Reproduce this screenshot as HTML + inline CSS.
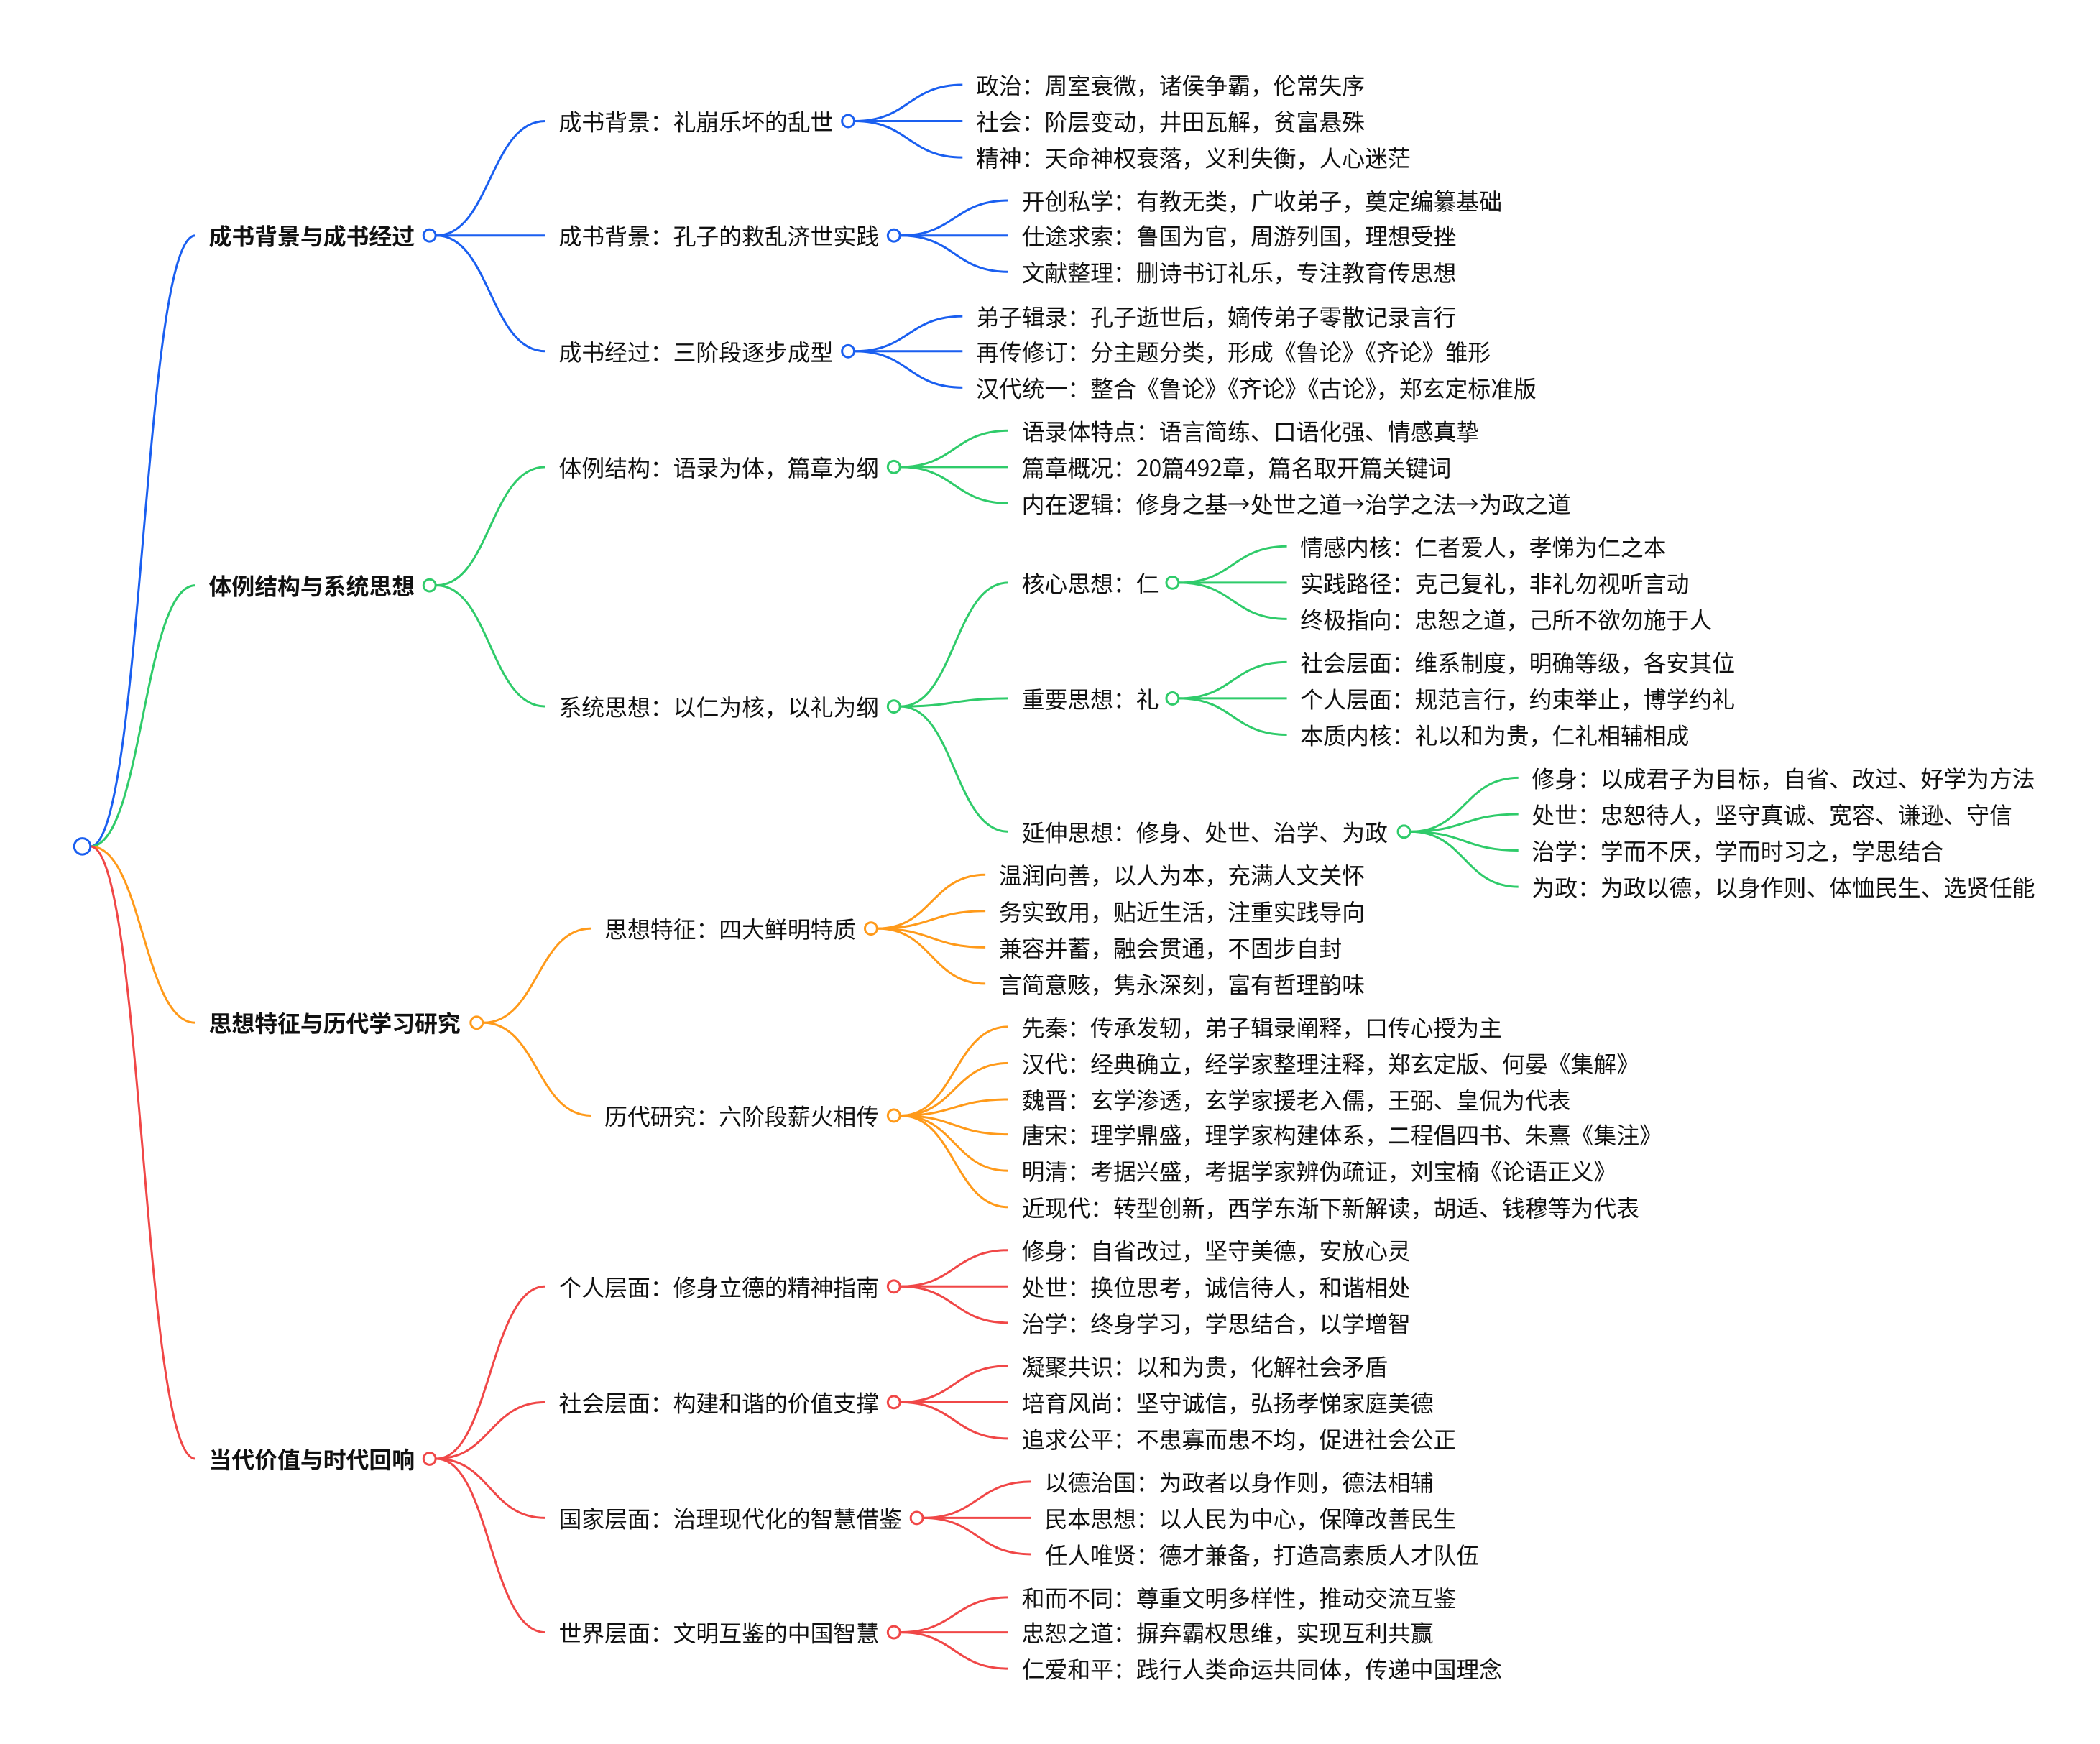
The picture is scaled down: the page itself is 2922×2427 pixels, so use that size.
<!DOCTYPE html>
<html><head><meta charset="utf-8"><style>
html,body{margin:0;padding:0;background:#fff;}
svg{display:block;}
text{font-family:"Noto Sans CJK SC","Liberation Sans",sans-serif;font-size:17px;fill:#111;dominant-baseline:central;}
.b{font-weight:bold;}
path{fill:none;stroke-width:1.6;}
circle{fill:#fff;stroke-width:1.6;}
.bl path,.bl circle{stroke:#1a5ff0;}
.gr path,.gr circle{stroke:#2fcb6a;}
.or path,.or circle{stroke:#ff9a1a;}
.rd path,.rd circle{stroke:#f04747;}
</style></head><body>
<svg width="2922" height="2427" viewBox="0 0 1560 1296" xmlns="http://www.w3.org/2000/svg">
<g class="bl">
<path d="M67 629 C106 629 106 175 145 175"/>
<path d="M324 175 C364 175 364 90 405 90"/><path d="M324 175 L405 175"/><path d="M324 175 C364 175 364 261 405 261"/>
<path d="M635 90 C675 90 675 63 715 63"/><path d="M635 90 L715 90"/><path d="M635 90 C675 90 675 117 715 117"/>
<path d="M669 175 C709 175 709 149 749 149"/><path d="M669 175 L749 175"/><path d="M669 175 C709 175 709 202 749 202"/>
<path d="M635 261 C675 261 675 235 715 235"/><path d="M635 261 L715 261"/><path d="M635 261 C675 261 675 288 715 288"/>
<circle cx="319" cy="175" r="4.5"/><circle cx="630" cy="90" r="4.5"/><circle cx="664" cy="175" r="4.5"/><circle cx="630" cy="261" r="4.5"/>
</g>
<g class="gr">
<path d="M67 629 C106 629 106 435 145 435"/>
<path d="M324 435 C364 435 364 347 405 347"/><path d="M324 435 C364 435 364 525 405 525"/>
<path d="M669 347 C709 347 709 320 749 320"/><path d="M669 347 L749 347"/><path d="M669 347 C709 347 709 374 749 374"/>
<path d="M669 525 C709 525 709 433 749 433"/><path d="M669 525 C709 525 709 519 749 519"/><path d="M669 525 C709 525 709 618 749 618"/>
<path d="M876 433 C916 433 916 406 956 406"/><path d="M876 433 L956 433"/><path d="M876 433 C916 433 916 460 956 460"/>
<path d="M876 519 C916 519 916 492 956 492"/><path d="M876 519 L956 519"/><path d="M876 519 C916 519 916 546 956 546"/>
<path d="M1048 618 C1088 618 1088 578 1128 578"/><path d="M1048 618 C1088 618 1088 605 1128 605"/><path d="M1048 618 C1088 618 1088 632 1128 632"/><path d="M1048 618 C1088 618 1088 659 1128 659"/>
<circle cx="319" cy="435" r="4.5"/><circle cx="664" cy="347" r="4.5"/><circle cx="664" cy="525" r="4.5"/><circle cx="871" cy="433" r="4.5"/><circle cx="871" cy="519" r="4.5"/><circle cx="1043" cy="618" r="4.5"/>
</g>
<g class="or">
<path d="M67 629 C106 629 106 760 145 760"/>
<path d="M359 760 C399 760 399 690 439 690"/><path d="M359 760 C399 760 399 829 439 829"/>
<path d="M652 690 C692 690 692 650 732 650"/><path d="M652 690 C692 690 692 677 732 677"/><path d="M652 690 C692 690 692 704 732 704"/><path d="M652 690 C692 690 692 731 732 731"/>
<path d="M669 829 C709 829 709 763 749 763"/><path d="M669 829 C709 829 709 790 749 790"/><path d="M669 829 C709 829 709 817 749 817"/><path d="M669 829 C709 829 709 843 749 843"/><path d="M669 829 C709 829 709 870 749 870"/><path d="M669 829 C709 829 709 897 749 897"/>
<circle cx="354" cy="760" r="4.5"/><circle cx="647" cy="690" r="4.5"/><circle cx="664" cy="829" r="4.5"/>
</g>
<g class="rd">
<path d="M67 629 C106 629 106 1084 145 1084"/>
<path d="M324 1084 C364 1084 364 956 405 956"/><path d="M324 1084 C364 1084 364 1042 405 1042"/><path d="M324 1084 C364 1084 364 1128 405 1128"/><path d="M324 1084 C364 1084 364 1213 405 1213"/>
<path d="M669 956 C709 956 709 929 749 929"/><path d="M669 956 L749 956"/><path d="M669 956 C709 956 709 983 749 983"/>
<path d="M669 1042 C709 1042 709 1015 749 1015"/><path d="M669 1042 L749 1042"/><path d="M669 1042 C709 1042 709 1069 749 1069"/>
<path d="M686 1128 C726 1128 726 1101 766 1101"/><path d="M686 1128 L766 1128"/><path d="M686 1128 C726 1128 726 1155 766 1155"/>
<path d="M669 1213 C709 1213 709 1187 749 1187"/><path d="M669 1213 L749 1213"/><path d="M669 1213 C709 1213 709 1240 749 1240"/>
<circle cx="319" cy="1084" r="4.5"/><circle cx="664" cy="956" r="4.5"/><circle cx="664" cy="1042" r="4.5"/><circle cx="681" cy="1128" r="4.5"/><circle cx="664" cy="1213" r="4.5"/>
</g>
<circle cx="61" cy="629" r="6" fill="#fff" stroke="#1a5ff0" stroke-width="2"/>

<text class="b" x="155" y="175">成书背景与成书经过</text>
<text class="b" x="155" y="435">体例结构与系统思想</text>
<text class="b" x="155" y="760">思想特征与历代学习研究</text>
<text class="b" x="155" y="1084">当代价值与时代回响</text>

<text x="415" y="90">成书背景：礼崩乐坏的乱世</text>
<text x="725" y="63">政治：周室衰微，诸侯争霸，伦常失序</text>
<text x="725" y="90">社会：阶层变动，井田瓦解，贫富悬殊</text>
<text x="725" y="117">精神：天命神权衰落，义利失衡，人心迷茫</text>
<text x="415" y="175">成书背景：孔子的救乱济世实践</text>
<text x="759" y="149">开创私学：有教无类，广收弟子，奠定编纂基础</text>
<text x="759" y="175">仕途求索：鲁国为官，周游列国，理想受挫</text>
<text x="759" y="202">文献整理：删诗书订礼乐，专注教育传思想</text>
<text x="415" y="261">成书经过：三阶段逐步成型</text>
<text x="725" y="235">弟子辑录：孔子逝世后，嫡传弟子零散记录言行</text>
<text x="725" y="261">再传修订：分主题分类，形成《鲁论》《齐论》雏形</text>
<text x="725" y="288">汉代统一：整合《鲁论》《齐论》《古论》，郑玄定标准版</text>

<text x="415" y="347">体例结构：语录为体，篇章为纲</text>
<text x="759" y="320">语录体特点：语言简练、口语化强、情感真挚</text>
<text x="759" y="347">篇章概况：20篇492章，篇名取开篇关键词</text>
<text x="759" y="374">内在逻辑：修身之基→处世之道→治学之法→为政之道</text>
<text x="415" y="525">系统思想：以仁为核，以礼为纲</text>
<text x="759" y="433">核心思想：仁</text>
<text x="966" y="406">情感内核：仁者爱人，孝悌为仁之本</text>
<text x="966" y="433">实践路径：克己复礼，非礼勿视听言动</text>
<text x="966" y="460">终极指向：忠恕之道，己所不欲勿施于人</text>
<text x="759" y="519">重要思想：礼</text>
<text x="966" y="492">社会层面：维系制度，明确等级，各安其位</text>
<text x="966" y="519">个人层面：规范言行，约束举止，博学约礼</text>
<text x="966" y="546">本质内核：礼以和为贵，仁礼相辅相成</text>
<text x="759" y="618">延伸思想：修身、处世、治学、为政</text>
<text x="1138" y="578">修身：以成君子为目标，自省、改过、好学为方法</text>
<text x="1138" y="605">处世：忠恕待人，坚守真诚、宽容、谦逊、守信</text>
<text x="1138" y="632">治学：学而不厌，学而时习之，学思结合</text>
<text x="1138" y="659">为政：为政以德，以身作则、体恤民生、选贤任能</text>

<text x="449" y="690">思想特征：四大鲜明特质</text>
<text x="742" y="650">温润向善，以人为本，充满人文关怀</text>
<text x="742" y="677">务实致用，贴近生活，注重实践导向</text>
<text x="742" y="704">兼容并蓄，融会贯通，不固步自封</text>
<text x="742" y="731">言简意赅，隽永深刻，富有哲理韵味</text>
<text x="449" y="829">历代研究：六阶段薪火相传</text>
<text x="759" y="763">先秦：传承发轫，弟子辑录阐释，口传心授为主</text>
<text x="759" y="790">汉代：经典确立，经学家整理注释，郑玄定版、何晏《集解》</text>
<text x="759" y="817">魏晋：玄学渗透，玄学家援老入儒，王弼、皇侃为代表</text>
<text x="759" y="843">唐宋：理学鼎盛，理学家构建体系，二程倡四书、朱熹《集注》</text>
<text x="759" y="870">明清：考据兴盛，考据学家辨伪疏证，刘宝楠《论语正义》</text>
<text x="759" y="897">近现代：转型创新，西学东渐下新解读，胡适、钱穆等为代表</text>

<text x="415" y="956">个人层面：修身立德的精神指南</text>
<text x="759" y="929">修身：自省改过，坚守美德，安放心灵</text>
<text x="759" y="956">处世：换位思考，诚信待人，和谐相处</text>
<text x="759" y="983">治学：终身学习，学思结合，以学增智</text>
<text x="415" y="1042">社会层面：构建和谐的价值支撑</text>
<text x="759" y="1015">凝聚共识：以和为贵，化解社会矛盾</text>
<text x="759" y="1042">培育风尚：坚守诚信，弘扬孝悌家庭美德</text>
<text x="759" y="1069">追求公平：不患寡而患不均，促进社会公正</text>
<text x="415" y="1128">国家层面：治理现代化的智慧借鉴</text>
<text x="776" y="1101">以德治国：为政者以身作则，德法相辅</text>
<text x="776" y="1128">民本思想：以人民为中心，保障改善民生</text>
<text x="776" y="1155">任人唯贤：德才兼备，打造高素质人才队伍</text>
<text x="415" y="1213">世界层面：文明互鉴的中国智慧</text>
<text x="759" y="1187">和而不同：尊重文明多样性，推动交流互鉴</text>
<text x="759" y="1213">忠恕之道：摒弃霸权思维，实现互利共赢</text>
<text x="759" y="1240">仁爱和平：践行人类命运共同体，传递中国理念</text>
</svg>
</body></html>
